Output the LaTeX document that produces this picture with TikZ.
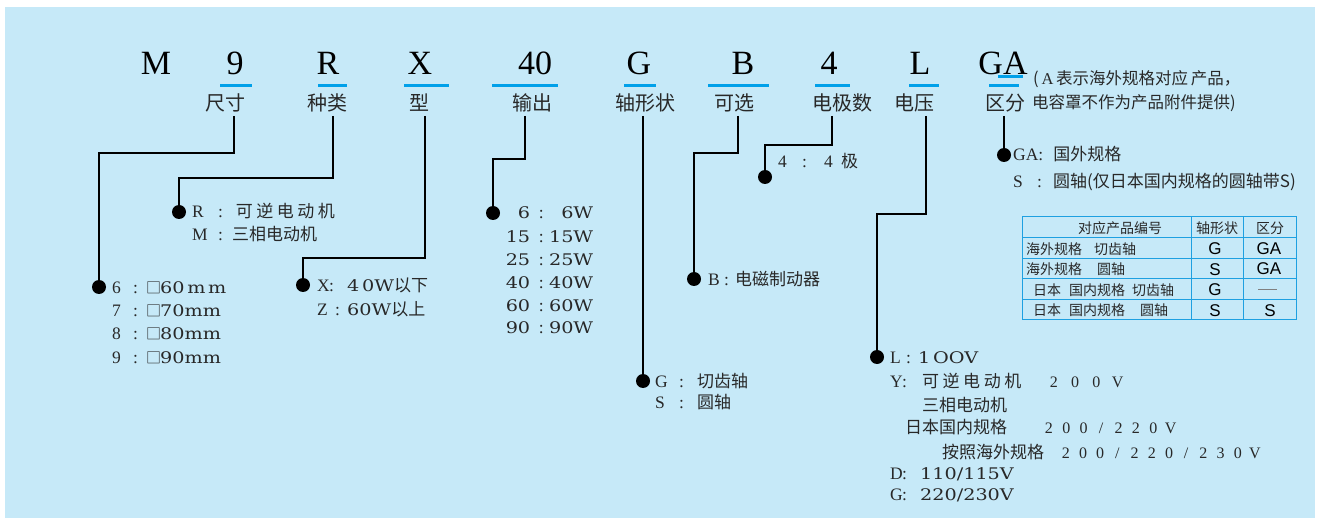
\documentclass[tikz,border=0pt]{standalone}
\usepackage{fontspec}
\setmainfont{Liberation Serif}
\newfontfamily\cjk{Noto Sans CJK SC}
\newfontfamily\wid[FakeStretch=1.2]{DejaVu Serif}
\newfontfamily\ssf{Liberation Sans}
\definecolor{bg}{RGB}{198,233,248}
\definecolor{ul}{RGB}{0,160,233}
\definecolor{tb}{RGB}{30,160,225}
\definecolor{ink}{RGB}{40,40,40}
\newcommand\fsz[1]{\fontsize{#1}{#1}\selectfont}
\newcommand\wnum[1]{{\wid\fsz{16}#1}}
\makeatletter
\newcommand\evenly[2]{\@tfor\ev@x:=#2\do{\makebox[#1][c]{\ev@x}}}
\makeatother
\begin{document}
\begin{tikzpicture}[x=1pt,y=-1pt,
  big/.style={anchor=base, inner sep=0, font=\fsz{34}},
  lbl/.style={anchor=center, inner sep=0, font=\cjk\fsz{20}, text=ink},
  ln/.style={anchor=base west, inner sep=0, font=\fsz{17.5}, text=ink},
  note/.style={anchor=west, inner sep=0, font=\cjk\fsz{16.5}, text=ink},
  dot/.style={circle, fill=black, inner sep=0, minimum size=14pt},
  con/.style={draw=black, line width=1.2pt},
  uline/.style={draw=ul, line width=3pt},
  tline/.style={draw=tb, line width=1pt},
  tcj/.style={anchor=center, inner sep=0, font=\cjk\fsz{14}, text=ink},
  tcjl/.style={anchor=west, inner sep=0, font=\cjk\fsz{14}, text=ink},
  tlat/.style={anchor=center, inner sep=0, font=\ssf\fsz{17}, text=black},
]
\useasboundingbox (0,0) rectangle (1322,518);
\fill[bg] (5,7) rectangle (1315,518);

% top code letters
\node[big] (tM) at (156,75) {M};
\node[big] (t9) at (235,75) {9};
\node[big] (tR) at (328,75) {R};
\node[big] (tX) at (420,75) {X};
\node[big] (t40) at (535,75) {40};
\node[big] (tG) at (639,75) {G};
\node[big] (tB) at (743,75) {B};
\node[big] (t4) at (829,75) {4};
\node[big] (tL) at (920,75) {L};
\node[big] (tGA) at (1003,75) {GA};

% blue underlines
\draw[uline] (220,86) -- (252,86);
\draw[uline] (318,86) -- (347,86);
\draw[uline] (404,86) -- (449,86);
\draw[uline] (492,86) -- (558,86);
\draw[uline] (624,86) -- (656,86);
\draw[uline] (708,86) -- (769,86);
\draw[uline] (815,86) -- (850,86);
\draw[uline] (909,86) -- (939,86);
\draw[uline] (989,86) -- (1019,86);
\draw[uline] (998,77) -- (1023,77);

% labels
\node[lbl] (l9) at (225,103) {尺寸};
\node[lbl] (lR) at (327,103) {种类};
\node[lbl] (lX) at (419,103) {型};
\node[lbl] (l40) at (532,103) {输出};
\node[lbl] (lG) at (645,103) {轴形状};
\node[lbl] (lB) at (734,103) {可选};
\node[lbl] (l4) at (842,103) {电极数};
\node[lbl] (lL) at (914,103) {电压};
\node[lbl] (lGA) at (1005,103) {区分};

\node[note] (n1) at (1033,79) {(\,{\rmfamily A}\,表示海外规格对应\,产品，};
\node[note] (n2) at (1032,103) {电容罩不作为产品附件提供)};

% connector start points
\coordinate (c9) at (234,116);
\coordinate (cR) at (333,116);
\coordinate (cX) at (425,116);
\coordinate (c40) at (525,116);
\coordinate (cG) at (643,116);
\coordinate (cB) at (738,116);
\coordinate (c4) at (832,116);
\coordinate (cL) at (926,116);
\coordinate (cGA) at (1004,116);

% dots
\node[dot] (d6) at (99,287) {};
\node[dot] (dR) at (179,212) {};
\node[dot] (dX) at (303,285) {};
\node[dot] (d40) at (493,213) {};
\node[dot] (dG) at (643,381) {};
\node[dot] (dB) at (694,279) {};
\node[dot] (d4) at (765,177) {};
\node[dot] (dL) at (877,357) {};
\node[dot] (dGA) at (1004,155) {};

% connectors
\draw[con] (c9) -- ++(0,37) -| (d6);
\draw[con] (cR) -- ++(0,62) -| (dR);
\draw[con] (cX) -- ++(0,142) -| (dX);
\draw[con] (c40) -- ++(0,43) -| (d40);
\draw[con] (cG) -- (dG);
\draw[con] (cB) -- ++(0,37) -| (dB);
\draw[con] (c4) -- ++(0,29) -| (d4);
\draw[con] (cL) -- ++(0,98) -| (dL);
\draw[con] (cGA) -- (dGA);

% size list
\node[ln] (s6) at (112,294) {\makebox[21pt][l]{6}\makebox[13pt][l]{:}\makebox[14pt][l]{\cjk\fsz{15}□}\wnum{60\,m\,m}};
\node[ln] (s7) at (112,317) {\makebox[21pt][l]{7}\makebox[13pt][l]{:}\makebox[14pt][l]{\cjk\fsz{15}□}\wnum{70mm}};
\node[ln] (s8) at (112,340) {\makebox[21pt][l]{8}\makebox[13pt][l]{:}\makebox[14pt][l]{\cjk\fsz{15}□}\wnum{80mm}};
\node[ln] (s9) at (112,363) {\makebox[21pt][l]{9}\makebox[13pt][l]{:}\makebox[14pt][l]{\cjk\fsz{15}□}\wnum{90mm}};

% type list
\node[ln] (r1) at (192,218) {\makebox[26pt][l]{R}\makebox[16pt][l]{:}{\cjk\fsz{17}\evenly{20.5pt}{可逆电动机}}};
\node[ln] (r2) at (192,241) {\makebox[26pt][l]{M}\makebox[14pt][l]{:}{\cjk\fsz{17}三相电动机}};

% X list
\node[ln] (x1) at (317,292) {\makebox[12pt][l]{X}\makebox[18pt][l]{:}\wnum{4\,0W}{\cjk\fsz{17}以下}};
\node[ln] (x2) at (317,316) {\makebox[18pt][l]{Z}\makebox[12pt][l]{:}\wnum{60W}{\cjk\fsz{17}以上}};

% output list
\node[ln] (o1) at (500,219) {\makebox[30pt][r]{\wnum{6}}\makebox[22pt][c]{:}\makebox[41pt][r]{\wnum{6W}}};
\node[ln] (o2) at (500,243) {\makebox[30pt][r]{\wnum{15}}\makebox[22pt][c]{:}\makebox[41pt][r]{\wnum{15W}}};
\node[ln] (o3) at (500,266) {\makebox[30pt][r]{\wnum{25}}\makebox[22pt][c]{:}\makebox[41pt][r]{\wnum{25W}}};
\node[ln] (o4) at (500,289) {\makebox[30pt][r]{\wnum{40}}\makebox[22pt][c]{:}\makebox[41pt][r]{\wnum{40W}}};
\node[ln] (o5) at (500,312) {\makebox[30pt][r]{\wnum{60}}\makebox[22pt][c]{:}\makebox[41pt][r]{\wnum{60W}}};
\node[ln] (o6) at (500,334) {\makebox[30pt][r]{\wnum{90}}\makebox[22pt][c]{:}\makebox[41pt][r]{\wnum{90W}}};

% brake
\node[ln] (b1) at (708,286) {\makebox[16pt][l]{B}\makebox[11pt][l]{:}{\cjk\fsz{17}电磁制动器}};

% poles
\node[ln] (p1) at (778,168) {\makebox[24pt][l]{4}\makebox[22pt][l]{:}\makebox[17pt][l]{4}{\cjk\fsz{17}极}};

% shaft
\node[ln] (g1) at (655,387) {\makebox[24pt][l]{G}\makebox[18pt][l]{:}{\cjk\fsz{17}切齿轴}};
\node[ln] (g2) at (655,408) {\makebox[24pt][l]{S}\makebox[18pt][l]{:}{\cjk\fsz{17}圆轴}};

% GA list
\node[ln] (a1) at (1013,161) {GA\makebox[15pt][l]{:}{\cjk\fsz{17}国外规格}};
\node[ln] (a2) at (1013,188) {\makebox[24pt][l]{S}\makebox[16pt][l]{:}{\cjk\fsz{17}圆轴(仅日本国内规格的圆轴带S)}};

% voltage list
\node[ln] (v1) at (890,363) {\makebox[16pt][l]{L}\makebox[12pt][l]{:}\wnum{1\,OOV}};
\node[ln] (v2) at (890,388) {\makebox[12pt][l]{Y}\makebox[18pt][l]{:}{\cjk\fsz{17}\evenly{20.6pt}{可逆电动机}}\hspace{20pt}{\fsz{16}\evenly{21.3pt}{200V}}};
\node[ln] (v3) at (922,411) {\cjk\fsz{17}三相电动机};
\node[ln] (v4) at (905,433) {{\cjk\fsz{17}日本国内规格}\hspace{33pt}{\fsz{16}\evenly{17.4pt}{200/220V}}};
\node[ln] (v5) at (942,458) {{\cjk\fsz{17}按照海外规格}\hspace{13pt}{\fsz{16}\evenly{17.2pt}{200/220/230V}}};
\node[ln] (v6) at (890,479) {\makebox[12pt][l]{D}\makebox[18pt][l]{:}\wnum{110/115V}};
\node[ln] (v7) at (890,500) {\makebox[12pt][l]{G}\makebox[18pt][l]{:}\wnum{220/230V}};

% table
\draw[tline] (1022,217) rectangle (1296,320);
\draw[tline] (1191,217) -- (1191,320);
\draw[tline] (1243,217) -- (1243,320);
\draw[tline] (1022,238) -- (1296,238);
\draw[tline] (1022,259) -- (1296,259);
\draw[tline] (1022,279) -- (1296,279);
\draw[tline] (1022,300) -- (1296,300);
\node[tcj] (h1) at (1120,228) {对应产品编号};
\node[tcj] (h2) at (1217,228) {轴形状};
\node[tcj] (h3) at (1270,228) {区分};
\node[tcjl] (k1) at (1026,249) {海外规格\hspace{12pt}切齿轴};
\node[tcjl] (k2) at (1026,269) {海外规格\hspace{15pt}圆轴};
\node[tcjl] (k3) at (1033,290) {日本\hspace{8pt}国内规格\hspace{7pt}切齿轴};
\node[tcjl] (k4) at (1033,310) {日本\hspace{8pt}国内规格\hspace{15pt}圆轴};
\node[tlat] (s1) at (1215,249) {G};
\node[tlat] (s2) at (1215,270) {S};
\node[tlat] (s3) at (1215,290) {G};
\node[tlat] (s4) at (1215,311) {S};
\node[tlat] (z1) at (1269,249) {GA};
\node[tlat] (z2) at (1269,269) {GA};
\draw[gray, line width=0.8pt] (1258,289) -- (1277,289);
\node[tlat] (z4) at (1270,311) {S};
\end{tikzpicture}
\end{document}
